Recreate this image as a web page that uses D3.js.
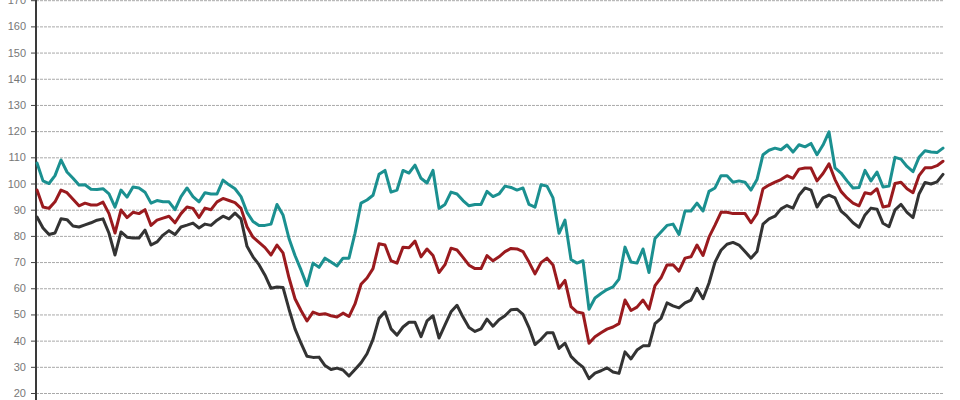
<!DOCTYPE html>
<html><head><meta charset="utf-8">
<script src="https://cdn.jsdelivr.net/npm/d3@7"></script>
<style>
html,body{margin:0;padding:0;background:#fff;}
svg{display:block;}
.grid line{stroke:#a9a9a9;stroke-width:1;stroke-dasharray:3,1;}
.yaxis text{fill:#777;font-family:"Liberation Sans",Arial,sans-serif;font-size:11px;}
.yaxis line{stroke:#444;}
</style></head>
<body>
<script>
const yTicks = [20,30,40,50,60,70,80,90,100,110,120,130,140,150,160,170];
const teal = [107.8,101,100,103,109,104.4,102,99.4,99.5,97.8,97.7,98,96,91,97.5,94.8,98.7,98.3,96.7,92.5,93.5,93,93,90,95,98.3,
95,93,96.5,96,96,101.3,99.5,98,95,89,85.5,84,84,84.5,92,88,79,72.5,67,61,69.6,68,71.5,70,68.5,71.5,71.5,81,92.5,93.7,95.5,103.5,105,96.7,97.5,105,104,107,102,100.2,105,90.5,92,96.7,96,93.5,91.5,92,92,97,95,96,99,98.5,97.5,98.3,92,91,99.5,99,94.5,81,86,71,69.6,70.5,52,56.3,58,59.5,60.5,63.5,75.7,70,69.6,75,66,79,81.5,84,84.5,80.5,89.5,89.5,92.5,89.5,97,98.3,103,103,100.5,101,100.5,97.5,101.5,111,112.7,113.5,112.9,114.7,112,114.8,114,115.3,111,114.7,119.7,106,104,101,98.3,98.5,105,101,104.4,98.7,99,110,109.3,106.5,104.5,110,112.5,112,111.8,113.5];
const red = [97.5,91,90.5,93,97.5,96.5,94,91.5,92.5,91.8,91.8,92.9,88.5,81.1,89.9,87,89,88.5,90,84,86,86.8,87.5,85,88.5,91,
90.5,87,90.6,90,93,94.3,93.5,92.7,90.5,83.5,79.5,77.5,75.5,72.7,76.5,73.5,64,56,51.5,47.5,50.9,50,50.3,49.5,49,50.5,49.2,54,61.5,63.9,67.5,77,76.5,70.5,69.6,75.7,75.5,78,72,75,72.5,66,69,75.3,74.6,71.8,68.8,67.5,67.5,72.5,70.5,72,74,75.2,75,74,70,65.5,69.8,71.5,68.9,60,63,53,50.9,50.5,39,41.5,43,44.4,45.2,46.5,55.5,51.5,52.8,55.5,52,61,64,68.9,69,66.5,71.5,72,76.5,72.5,79.5,84.1,89,89,88.5,88.5,88.5,85,88.5,98,99.4,100.5,101.5,103,102,105.5,105.9,105.9,101,103.8,107.5,101.5,97,94.5,92.5,91.5,96.5,96,98,91,91.5,100,100.5,98,96.5,103,106,106,106.8,108.5];
const gray = [87.2,83,80.5,81.1,86.5,86.2,83.8,83.4,84.2,85,86,86.5,81,72.7,81.5,79.5,79.2,79.2,82.2,76.5,77.7,80.3,82,80.5,83.4,84.1,
84.9,83,84.5,84,86,87.5,86.5,88.7,86.5,76,72,69,65,60,60.5,60.3,52,44.5,39,34,33.6,33.7,30.5,29,29.5,28.8,26.5,29,31.5,35,40.5,48.5,51,44.5,42.1,45.2,47,47,41.5,47.5,49.5,41,46,51,53.5,49,45,43.5,44.5,48.2,45.5,48,49.5,51.8,52,50,45,38.5,40.5,43,43,37,39,34,31.7,29.9,25.5,27.6,28.5,29.6,28,27.5,35.7,33,36.4,38,38,46.5,48.5,54.4,53.3,52.5,54.4,55.5,60,56,62,70,74.5,76.8,77.5,76.5,74,71.5,74,84.5,86.5,87.5,90.3,91.6,90.6,95.5,98.3,97.5,91,94.5,95.6,94.5,89.5,87.5,85,83.3,88,90.6,90.2,84.8,83.5,89.9,92,89,87,96,100.4,99.8,100.6,103.5];
const periods = d3.range(teal.length);
const seriesNames = ["teal","red","gray"];
const seriesColors = ["#1b9090","#9a1a1e","#333333"];

const W = 960, H = 400;
const svg = d3.select("body").append("svg").attr("width", W).attr("height", H);
const x = d3.scaleLinear().domain([0, periods.length - 1]).range([37, 943]);
const y = d3.scaleLinear().domain([20, 170]).range([393, 0.2]);

svg.append("g").attr("class","grid").attr("transform","translate(36,0)")
  .call(d3.axisLeft(y).tickValues(yTicks).tickSize(-908).tickFormat(""))
  .call(g => g.select(".domain").remove());

const ya = svg.append("g").attr("class","yaxis").attr("transform","translate(36,0)")
  .call(d3.axisLeft(y).tickValues(yTicks).tickSize(5).tickPadding(5))
  .call(g => g.select(".domain").remove());

svg.append("line").attr("x1",36).attr("x2",36).attr("y1",0).attr("y2",H)
  .attr("stroke","#3a3a3a").attr("stroke-width",2);

const data = [teal, red, gray];
const line = d3.line().x((d,i) => x(periods[i])).y(d => y(d));
data.forEach((s, k) => {
  svg.append("path").datum(s).attr("d", line)
    .attr("fill","none").attr("stroke", seriesColors[k])
    .attr("stroke-width", 3).attr("stroke-linejoin","round").attr("stroke-linecap","round");
});
</script>
</body></html>
